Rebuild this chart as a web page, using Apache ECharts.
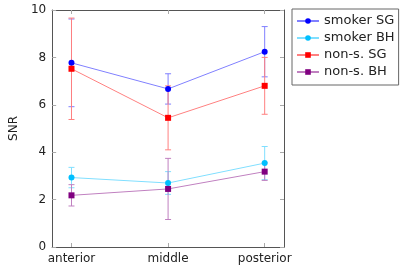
<!DOCTYPE html>
<html><head><meta charset="utf-8">
<script src="https://cdn.jsdelivr.net/npm/echarts@6/dist/echarts.min.js"></script>
<style>html,body{margin:0;padding:0;background:#fff}#c{width:400px;height:270px}</style>
</head><body><div id="c"></div>
<script>
var categories = ['anterior', 'middle', 'posterior'];
var yTicks = [0, 2, 4, 6, 8, 10];
var seriesNames = ['smoker SG', 'smoker BH', 'non-s. SG', 'non-s. BH'];
var smokerSG = [7.77, 6.67, 8.24];
var smokerSGErr = [1.85, 0.64, 1.06];
var smokerBH = [2.93, 2.70, 3.54];
var smokerBHErr = [0.43, 0.48, 0.70];
var nonSG = [7.52, 5.45, 6.80];
var nonSGErr = [2.14, 1.35, 1.20];
var nonBH = [2.18, 2.45, 3.18];
var nonBHErr = [0.45, 1.29, 0.37];

var colors = ['#0000ff', '#00bfff', '#ff0000', '#800080'];
var symbols = ['circle', 'circle', 'rect', 'rect'];
var vals = [smokerSG, smokerBH, nonSG, nonBH];
var errs = [smokerSGErr, smokerBHErr, nonSGErr, nonBHErr];
var idx = categories.map(function(_, i){ return i; });

function tint(hex, a){
  var c = [1,3,5].map(function(p){ return parseInt(hex.slice(p,p+2),16); });
  return 'rgb(' + c.map(function(x){ return Math.round(x*a + 255*(1-a)); }).join(',') + ')';
}

var series = [];
vals.forEach(function(v, k){
  series.push({
    type: 'custom', name: seriesNames[k] + ' err', z: 1 + k * 0.1,
    data: idx.map(function(i){ return [i, v[i] - errs[k][i], v[i] + errs[k][i]]; }),
    encode: {x: 0, y: [1, 2]},
    renderItem: function(params, api){
      var lo = api.coord([api.value(0), api.value(1)]);
      var hi = api.coord([api.value(0), api.value(2)]);
      var w = 3;
      var st = {stroke: tint(colors[k], 0.5), lineWidth: 1};
      return {type: 'group', children: [
        {type: 'line', shape: {x1: lo[0], y1: lo[1], x2: hi[0], y2: hi[1]}, style: st},
        {type: 'line', shape: {x1: lo[0]-w, y1: lo[1], x2: lo[0]+w, y2: lo[1]}, style: st},
        {type: 'line', shape: {x1: hi[0]-w, y1: hi[1], x2: hi[0]+w, y2: hi[1]}, style: st}
      ]};
    }
  });
});
vals.forEach(function(v, k){
  series.push({
    type: 'line', name: seriesNames[k], z: 3,
    data: idx.map(function(i){ return [i, v[i]]; }),
    symbol: symbols[k], symbolSize: 6,
    itemStyle: {color: colors[k]},
    lineStyle: {color: tint(colors[k], 0.5), width: 1},
    emphasis: {disabled: true}
  });
});

var axisCol = '#555';
var tickStyle = {color: '#aaa'};
var chart = echarts.init(document.getElementById('c'), null, {renderer: 'canvas'});
chart.setOption({
  animation: false,
  grid: {left: 46, right: 116, top: 10, bottom: 23},
  legend: {
    data: seriesNames,
    orient: 'vertical', left: 292, top: 9,
    borderColor: '#666', borderWidth: 1, borderRadius: 0,
    padding: [5, 4, 6, 4], itemGap: 3, itemWidth: 22, itemHeight: 7,
    textStyle: {fontFamily: 'DejaVu Sans', fontSize: 13, color: '#222', lineHeight: 14}
  },
  xAxis: [{
    type: 'value', min: -0.2, max: 2.2,
    axisLine: {show: true, onZero: false, lineStyle: {color: axisCol}},
    splitLine: {show: false},
    axisTick: {show: true, inside: true, length: 4, customValues: idx, lineStyle: tickStyle},
    axisLabel: {customValues: idx, formatter: function(v){ return categories[Math.round(v)]; },
      fontFamily: 'DejaVu Sans', fontSize: 12, color: '#222', margin: 6}
  }, {
    type: 'value', position: 'top', min: -0.2, max: 2.2,
    axisLine: {show: true, onZero: false, lineStyle: {color: axisCol}},
    splitLine: {show: false},
    axisTick: {show: true, inside: true, length: 4, customValues: idx, lineStyle: tickStyle},
    axisLabel: {show: false}
  }],
  yAxis: [{
    type: 'value', min: 0, max: 10, interval: 2, name: 'SNR',
    nameLocation: 'middle', nameGap: 29, nameRotate: 90,
    nameTextStyle: {fontFamily: 'DejaVu Sans', fontSize: 12, color: '#222'},
    axisLine: {show: true, onZero: false, lineStyle: {color: axisCol}},
    splitLine: {show: false},
    axisTick: {show: true, inside: true, length: 4, lineStyle: tickStyle},
    axisLabel: {fontFamily: 'DejaVu Sans', fontSize: 12, color: '#222', margin: 6}
  }, {
    type: 'value', position: 'right', min: 0, max: 10, interval: 2,
    axisLine: {show: true, onZero: false, lineStyle: {color: axisCol}},
    splitLine: {show: false},
    axisTick: {show: true, inside: true, length: 4, lineStyle: tickStyle},
    axisLabel: {show: false}
  }],
  series: series
});
</script></body></html>
